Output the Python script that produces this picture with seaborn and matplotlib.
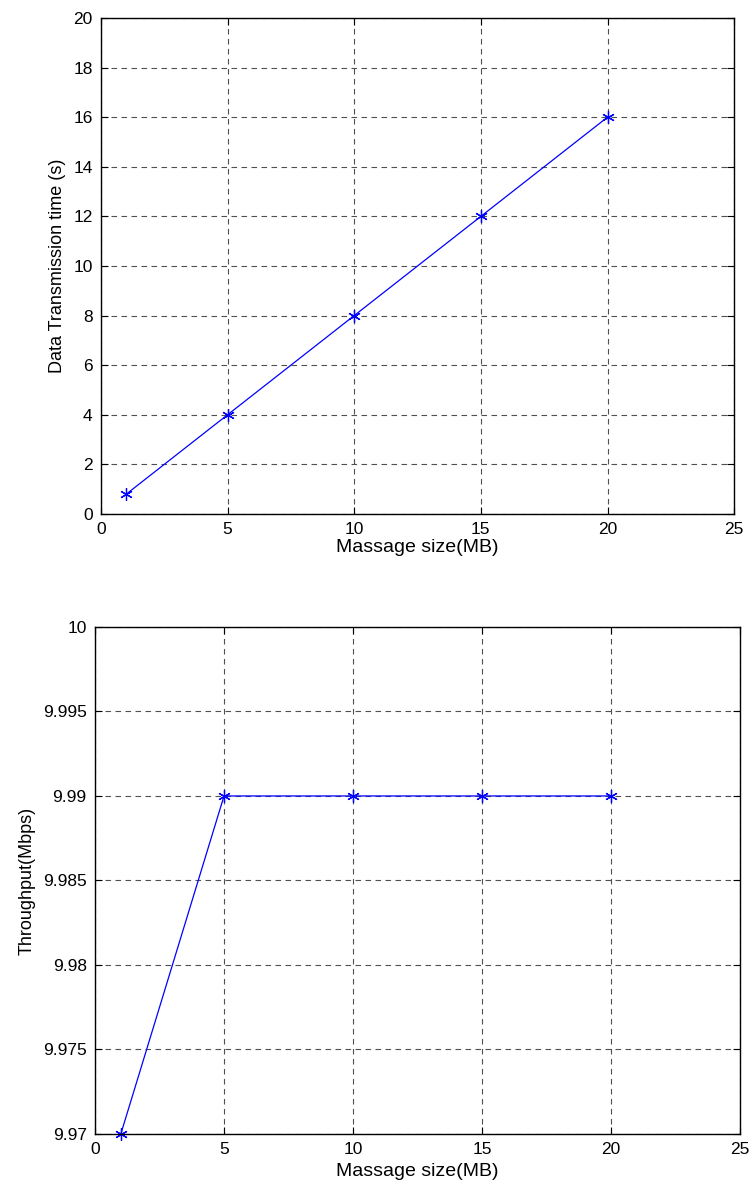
import matplotlib
matplotlib.use("Agg")
import matplotlib.pyplot as plt
import seaborn as sns
import pandas as pd
from matplotlib.ticker import FuncFormatter

sns.set_style("white")
plt.rcParams['font.family'] = ['Liberation Sans', 'DejaVu Sans']
plt.rcParams['text.color'] = 'black'
plt.rcParams['axes.labelcolor'] = 'black'
plt.rcParams['xtick.color'] = 'black'
plt.rcParams['ytick.color'] = 'black'

msg_size = [1, 5, 10, 15, 20]
tx_time = [0.8, 4, 8, 12, 16]
throughput = [9.97, 9.99, 9.99, 9.99, 9.99]

x_ticks = [0, 5, 10, 15, 20, 25]
y1_ticks = [0, 2, 4, 6, 8, 10, 12, 14, 16, 18, 20]
y2_ticks = [9.97, 9.975, 9.98, 9.985, 9.99, 9.995, 10.0]

df = pd.DataFrame({"size": msg_size, "time": tx_time, "thr": throughput})

fig = plt.figure(figsize=(7.53, 11.89), dpi=100)
ax1 = fig.add_axes([0.134, 0.5677, 0.841, 0.4172])
ax2 = fig.add_axes([0.1262, 0.0463, 0.8566, 0.4264])

marker = (6, 2, 0)

def style(ax, yticks, ylabel, xpad):
    ax.set_xlim(0, 25)
    ax.set_ylim(yticks[0], yticks[-1])
    ax.set_xticks(x_ticks)
    ax.set_yticks(yticks)
    ax.yaxis.set_major_formatter(FuncFormatter(lambda v, p: ('%g' % round(v, 4))))
    ax.grid(True, color='#505050', linestyle=(0, (5, 4)), linewidth=0.8)
    ax.tick_params(direction='in', length=5, width=0.8, labelsize=12.5, top=True, right=True,
                   bottom=True, left=True, pad=6)
    for s in ax.spines.values():
        s.set_color('black')
        s.set_linewidth(1.0)
    ax.set_xlabel('Massage size(MB)', fontsize=14, labelpad=xpad)
    ax.set_ylabel(ylabel, fontsize=13, labelpad=5)

sns.lineplot(data=df, x="size", y="time", ax=ax1, color='#0000ff', linewidth=0.9,
             marker=marker, markersize=9, markeredgecolor='#0000ff', markeredgewidth=0.9)
style(ax1, y1_ticks, 'Data Transmission time (s)', 1)

sns.lineplot(data=df, x="size", y="thr", ax=ax2, color='#0000ff', linewidth=0.9,
             marker=marker, markersize=9, markeredgecolor='#0000ff', markeredgewidth=0.9,
             clip_on=False)
style(ax2, y2_ticks, 'Throughput(Mbps)', 4)

fig.savefig("out.png", dpi=100)
